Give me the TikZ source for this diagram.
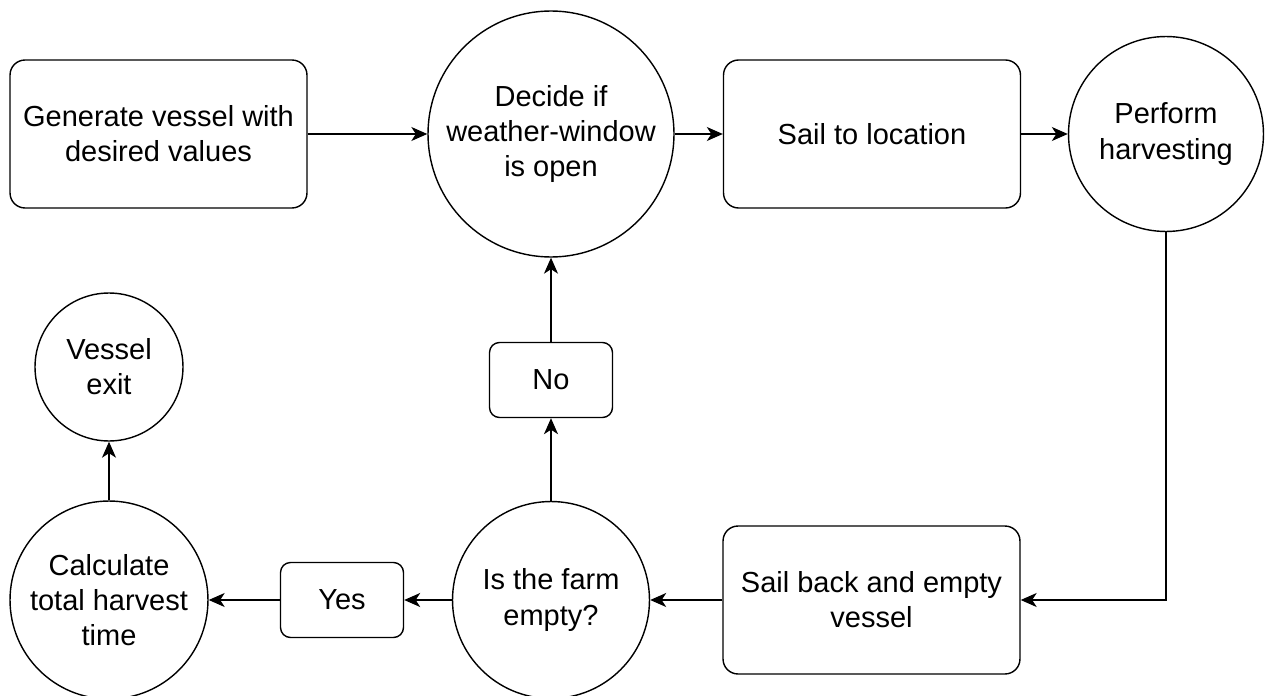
\documentclass[tikz,border=0pt]{standalone}
\usepackage{fontspec}
\setmainfont{Liberation Sans}
\usetikzlibrary{arrows.meta}

\tikzset{
    stepbox/.style={draw, rounded corners=0.3cm, align=center, minimum width=5.94cm, minimum height=2.96cm},
    choice/.style={draw, rounded corners=0.2cm, align=center, minimum width=2.46cm, minimum height=1.5cm},
    state/.style={draw, circle, align=center, inner sep=0pt},
    flow/.style={-{Stealth[length=0.32cm, width=0.28cm, inset=0.09cm]}}
}

\begin{document}
\begin{tikzpicture}[x=0.02cm, y=-0.02cm, line width=0.8pt, font=\fontsize{16.5}{20}\selectfont]
        \useasboundingbox (0,0) rectangle (1265,696);
        \node[stepbox] (generate) at (158.5,134) {Generate vessel with\\desired values};
        \node[state, minimum size=4.92cm] (decide) at (551,134) {Decide if\\weather-window\\is open};
        \node[stepbox] (sail) at (872,134) {Sail to location};
        \node[state, minimum size=3.9cm] (harvest) at (1166,134) {Perform\\harvesting};
        \node[stepbox] (sailback) at (871.5,600) {Sail back and empty\\vessel};
        \node[state, minimum size=3.94cm] (farm) at (551,600) {Is the farm\\empty?};
        \node[choice] (yes) at (342,600) {Yes};
        \node[state, minimum size=3.96cm] (calc) at (109,600) {Calculate\\total harvest\\time};
        \node[choice] (no) at (551,380) {No};
        \node[state, minimum size=2.96cm] (exit) at (109,367) {Vessel\\exit};
        \draw[flow] (generate) -- (decide);
        \draw[flow] (decide) -- (sail);
        \draw[flow] (sail) -- (harvest);
        \draw[flow] (harvest.south) |- (sailback.east);
        \draw[flow] (sailback) -- (farm);
        \draw[flow] (farm) -- (yes);
        \draw[flow] (yes) -- (calc);
        \draw[flow] (calc) -- (exit);
        \draw[flow] (farm) -- (no);
        \draw[flow] (no) -- (decide);
    \end{tikzpicture}
\end{document}
